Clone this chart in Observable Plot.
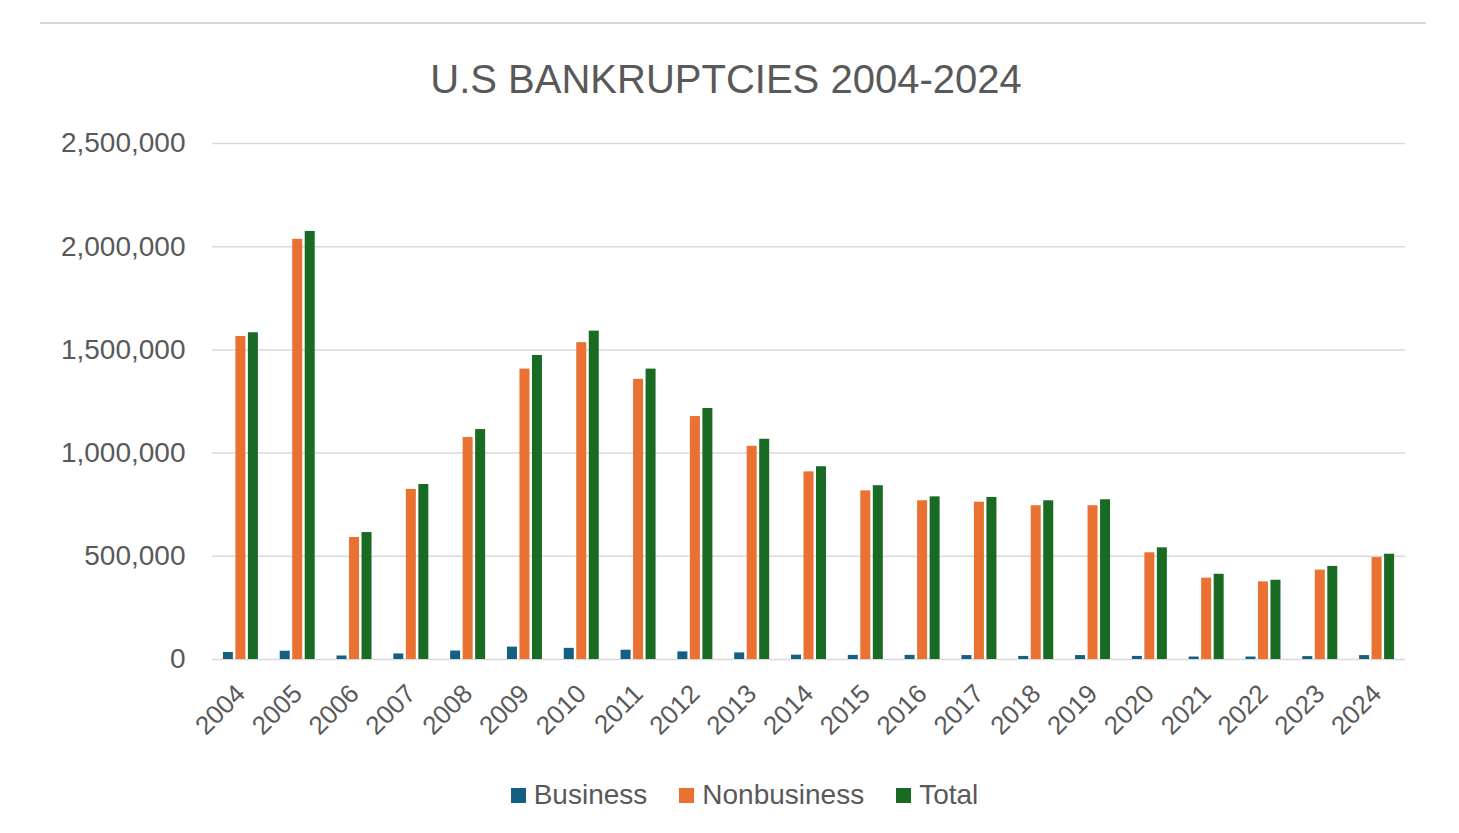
<!DOCTYPE html>
<html>
<head>
<meta charset="utf-8">
<script src="https://cdn.jsdelivr.net/npm/d3@7"></script>
<script src="https://cdn.jsdelivr.net/npm/@observablehq/plot@0.6"></script>
<style>
  html, body { margin: 0; padding: 0; background: #fff; }
  body { width: 1459px; height: 833px; position: relative; overflow: hidden; font-family: "Liberation Sans", Arial, sans-serif; }
  #topline { position: absolute; left: 40px; top: 22px; width: 1386px; height: 2px; background: #d9d9d9; }
  #title { position: absolute; left: 0; top: 59px; width: 1452px; text-align: center; font-size: 40px; line-height: 40px; color: #595959; }
  #chart { position: absolute; left: 0; top: 110px; }
  #legend { position: absolute; left: 15px; top: 780px; width: 1459px; display: flex; justify-content: center; gap: 32px; font-size: 28px; line-height: 30px; color: #595959; }
  #legend span.item { display: flex; align-items: center; }
  #legend span.sw { display: inline-block; width: 15px; height: 15px; margin-right: 8px; }
</style>
</head>
<body>
<div id="topline"></div>
<div id="title">U.S BANKRUPTCIES 2004-2024</div>
<div id="chart"></div>
<div id="legend"></div>
<script>
const years = ["2004","2005","2006","2007","2008","2009","2010","2011","2012","2013","2014","2015","2016","2017","2018","2019","2020","2021","2022","2023","2024"];
const business = [34000, 40000, 17000, 27000, 41000, 60000, 54000, 45000, 37000, 32000, 21000, 20000, 20000, 19000, 15000, 19000, 15000, 12000, 12000, 14000, 19000];
const nonbusiness = [1565000, 2036000, 591000, 824000, 1076000, 1407000, 1535000, 1357000, 1177000, 1033000, 909000, 817000, 769000, 762000, 745000, 745000, 517000, 394000, 376000, 433000, 494000];
const total = [1583000, 2074000, 615000, 848000, 1114000, 1473000, 1591000, 1407000, 1216000, 1067000, 934000, 842000, 788000, 785000, 769000, 774000, 541000, 413000, 384000, 451000, 510000];
const seriesNames = ["Business", "Nonbusiness", "Total"];
const seriesColors = ["#156082", "#E97132", "#196B24"];
const yTicks = [0, 500000, 1000000, 1500000, 2000000, 2500000];

const seriesValues = [business, nonbusiness, total];
const offsets = [-12.5, 0, 12.5];

const marks = [
  Plot.ruleY(yTicks, {stroke: "#d9d9d9", strokeWidth: 1.5}),
  Plot.axisY({ticks: yTicks, tickSize: 0, tickPadding: 27, fontSize: 28, fill: "#595959", tickFormat: d3.format(","), label: null}),
  Plot.axisX({tickRotate: -45, tickSize: 0, tickPadding: 30, fontSize: 26, fill: "#595959", label: null})
];
seriesNames.forEach((name, i) => {
  const rows = years.map((y, j) => ({year: y, value: seriesValues[i][j]}));
  marks.push(Plot.barY(rows, {x: "year", y: "value", fill: seriesColors[i], dx: offsets[i]}));
});

const chart = Plot.plot({
  width: 1459,
  height: 650,
  marginLeft: 212,
  marginRight: 54,
  marginTop: 33,
  marginBottom: 101,
  style: {fontFamily: "Liberation Sans, Arial, sans-serif", background: "#fff", overflow: "visible"},
  x: {domain: years, paddingInner: 0.824, paddingOuter: 0.412, round: false},
  y: {domain: [0, 2500000]},
  marks
});
document.getElementById("chart").appendChild(chart);

const legend = document.getElementById("legend");
seriesNames.forEach((name, i) => {
  const item = document.createElement("span");
  item.className = "item";
  const sw = document.createElement("span");
  sw.className = "sw";
  sw.style.background = seriesColors[i];
  item.appendChild(sw);
  item.appendChild(document.createTextNode(name));
  legend.appendChild(item);
});
</script>
</body>
</html>
